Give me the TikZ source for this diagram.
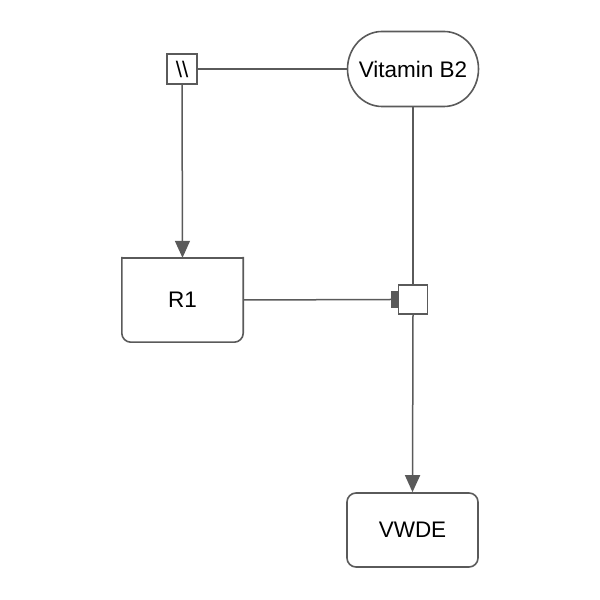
\documentclass[tikz,border=0pt]{standalone}
\usepackage{fontspec}
\setmainfont{Liberation Sans}
\usetikzlibrary{arrows.meta}
\definecolor{lc}{RGB}{90,90,90}
\begin{document}
\begin{tikzpicture}[x=1pt,y=1pt,
  lbl/.style={font=\fontsize{22.5}{27}\selectfont, text=black, inner sep=0pt},
  ln/.style={draw=lc, line width=1.5pt},
  arr/.style={ln, -{Triangle[width=15pt,length=17pt]}, lc},
  rbox/.style={lbl, draw=lc, line width=1.6pt, rounded corners=9pt, minimum width=131pt, minimum height=74pt},
  sqbox/.style={draw=lc, line width=1.6pt, fill=white, minimum width=30pt, minimum height=30pt, inner sep=0pt}
]
\useasboundingbox (0,0) rectangle (600,600);
% nodes
\node[sqbox, lbl, minimum width=30pt, minimum height=30pt] (slash) at (182,531) {\textbackslash\textbackslash};
\node[lbl, minimum width=131pt, minimum height=75pt] (vit) at (413,531) {Vitamin B2};
\draw[lc, line width=1.6pt] (382,568.5) -- (444,568.5)
  arc[start angle=90, end angle=-90, x radius=34.5, y radius=37.5]
  -- (382,493.5)
  arc[start angle=270, end angle=90, x radius=34.5, y radius=37.5] -- cycle;
\node[lbl, minimum width=121pt, minimum height=84pt] (R1) at (182.5,300) {R1};
\draw[lc, line width=1.6pt, line cap=rect, rounded corners=9pt] (R1.north east) -- (R1.south east) -- (R1.south west) -- (R1.north west);
\draw[lc, line width=1.6pt, line cap=rect] (R1.north west) -- (R1.north east);
\node[sqbox, minimum width=29pt, minimum height=29pt] (proc) at (413,300.5) {};
\node[fill=lc, minimum width=6.5pt, minimum height=17pt, inner sep=0pt, anchor=east] (bar) at (proc.west) {};
\node[rbox] (vwde) at (412.5,70) {VWDE};
% connectors
\draw[ln] (slash.east) -- (vit.west);
\draw[arr] (slash.south) -- (R1.north);
\draw[ln] (vit.south) -- (proc.north);
\draw[ln] (R1.east) -- (bar.west);
\draw[arr] (proc.south) -- (vwde.north);
\end{tikzpicture}
\end{document}
